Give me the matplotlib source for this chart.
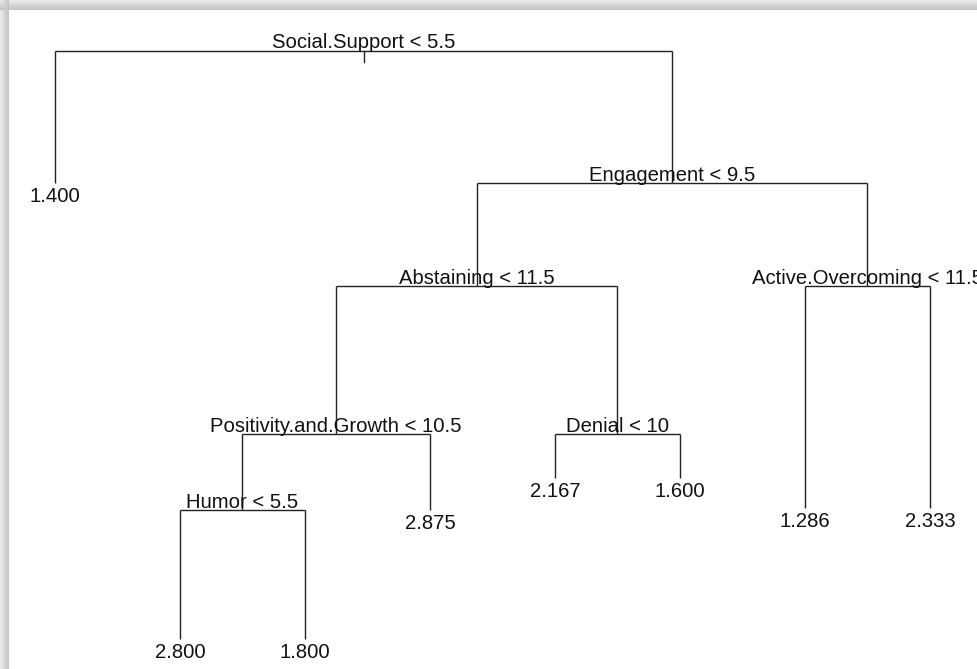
import numpy as np
import matplotlib
matplotlib.use("Agg")
import matplotlib.pyplot as plt

# ---- regression tree frame (node numbering as in R's tree package) ----
node_id = [1, 2, 3, 6, 12, 24, 48, 49, 25, 13, 26, 27, 7, 14, 15]
node_var = ["Social.Support", "<leaf>", "Engagement", "Abstaining",
            "Positivity.and.Growth", "Humor", "<leaf>", "<leaf>", "<leaf>",
            "Denial", "<leaf>", "<leaf>", "Active.Overcoming", "<leaf>", "<leaf>"]
node_cut = ["< 5.5", "", "< 9.5", "< 11.5", "< 10.5", "< 5.5", "", "", "",
            "< 10", "", "", "< 11.5", "", ""]
node_yval = [np.nan, 1.400, np.nan, np.nan, np.nan, np.nan, 2.800, 1.800, 2.875,
             np.nan, 2.167, 1.600, np.nan, 1.286, 2.333]
node_dev = [37.71, 1.50, 31.78, 18.05, 9.63, 5.90, 0.80, 0.80, 1.20,
            3.47, 0.90, 1.10, 10.32, 1.60, 1.30]

W, H, DPI = 978, 669, 100
PX_PER_LEAF = 125.0
LEFT_PX = 55.0
PX_PER_DEV = 30.0
ROOT_PX = 50.5

idx = {n: i for i, n in enumerate(node_id)}
is_leaf = [v == "<leaf>" for v in node_var]

# y coordinates (R tree::treeco, proportional)
y = {}
for n in sorted(node_id, key=lambda k: (int(np.log2(k)), k)):
    i = idx[n]
    if n == 1:
        y[n] = node_dev[i]
    else:
        p = n // 2
        sib = n + 1 if n % 2 == 0 else n - 1
        y[n] = y[p] - node_dev[idx[p]] + node_dev[i] + node_dev[idx[sib]]

# x coordinates: leaves 1..n in order, internal = midpoint of children
x = {}
k = 1
for n, lf in zip(node_id, is_leaf):
    if lf:
        x[n] = float(k)
        k += 1
for n in sorted(node_id, key=lambda k: -int(np.log2(k))):
    if not is_leaf[idx[n]]:
        x[n] = (x[2 * n] + x[2 * n + 1]) / 2.0

fig = plt.figure(figsize=(W / DPI, H / DPI), dpi=DPI)
fig.patch.set_facecolor("white")

# screenshot drop shadow (top and left edges)
img = np.ones((H, W))
top = 10
left = 9
for r in range(top):
    img[r, :] = 0.92 - 0.15 * r / (top - 1)
for c in range(left):
    col = 0.92 - 0.15 * c / (left - 1)
    img[:, c] = np.minimum(img[:, c], col) if False else np.where(np.arange(H) < top, np.minimum(img[:, c], col), col)
bg = fig.add_axes([0, 0, 1, 1], zorder=-1)
bg.imshow(np.dstack([img] * 3), extent=[0, W, H, 0], interpolation="nearest", aspect="auto")
bg.axis("off")

ax = fig.add_axes([0, 0, 1, 1])
ax.patch.set_alpha(0)
ax.axis("off")
y_root = y[1]
ax.set_xlim(1 - LEFT_PX / PX_PER_LEAF, 1 + (W - LEFT_PX) / PX_PER_LEAF)
ax.set_ylim(y_root - (H - ROOT_PX) / PX_PER_DEV, y_root + ROOT_PX / PX_PER_DEV)

lc = "#222222"
lw = 1.0
for n in node_id:
    if n == 1:
        continue
    p = n // 2
    ax.plot([x[p], x[n]], [y[p], y[p]], color=lc, lw=lw, solid_capstyle="butt")
    ax.plot([x[n], x[n]], [y[p], y[n]], color=lc, lw=lw, solid_capstyle="butt")
# small tick under the root
ax.plot([x[1], x[1]], [y[1], y[1] - 11 / PX_PER_DEV], color=lc, lw=lw)

font = dict(family=["Liberation Sans", "DejaVu Sans"], size=14.6, color="#111111")
for n, var, cut, val, lf in zip(node_id, node_var, node_cut, node_yval, is_leaf):
    if lf:
        ax.annotate(f"{val:.3f}", (x[n], y[n]), xytext=(0, -19), textcoords="offset pixels",
                    ha="center", va="baseline", **font)
    else:
        ax.annotate(f"{var} {cut}", (x[n], y[n]), xytext=(0, 2), textcoords="offset pixels",
                    ha="center", va="baseline", annotation_clip=False, **font)

fig.savefig("out.png", dpi=DPI)
